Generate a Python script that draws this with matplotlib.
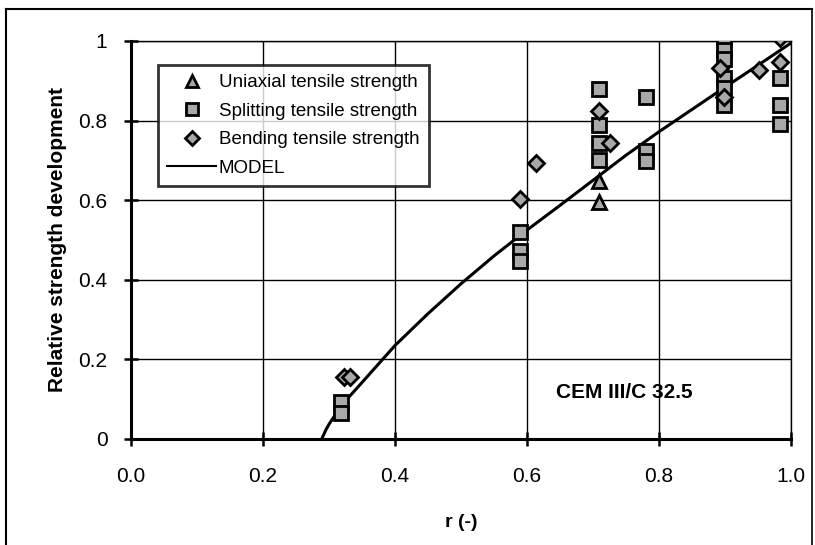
import matplotlib.pyplot as plt
from matplotlib.lines import Line2D

plt.rcParams['font.family'] = ['Liberation Sans', 'DejaVu Sans']

# measured points
uniax_r = [0.709, 0.709]
uniax_s = [0.647, 0.596]

split_r = [0.318, 0.318, 0.589, 0.589, 0.589,
           0.709, 0.709, 0.709, 0.709,
           0.781, 0.781, 0.781,
           0.899, 0.899, 0.899, 0.899, 0.899, 0.899,
           0.983, 0.983, 0.983]
split_s = [0.092, 0.065, 0.519, 0.473, 0.448,
           0.879, 0.789, 0.744, 0.701,
           0.860, 0.724, 0.698,
           1.010, 0.977, 0.956, 0.906, 0.881, 0.839,
           0.906, 0.839, 0.791]

bend_r = [0.322, 0.332, 0.589, 0.613, 0.709, 0.726, 0.892, 0.899, 0.952, 0.983, 0.983]
bend_s = [0.157, 0.157, 0.602, 0.693, 0.824, 0.744, 0.931, 0.860, 0.927, 1.008, 0.948]

# model curve
model_r = [0.289, 0.295, 0.30, 0.31, 0.32, 0.33, 0.35, 0.40, 0.45, 0.50,
           0.55, 0.60, 0.65, 0.70, 0.75, 0.80, 0.85, 0.90, 0.95, 1.00]
model_s = [0.0, 0.022, 0.037, 0.062, 0.085, 0.105, 0.142, 0.235, 0.315, 0.390,
           0.460, 0.525, 0.587, 0.650, 0.713, 0.772, 0.828, 0.884, 0.939, 0.995]

fig = plt.figure(figsize=(8.15, 5.45), dpi=100)
ax = fig.add_axes([131/815, 1-439/545, 660/815, 398/545])

ax.plot(model_r, model_s, color='black', lw=2.2, zorder=3)
ax.plot(split_r, split_s, 's', ms=10, mfc='#a8a8a8', mec='black', mew=2, zorder=4)
ax.plot(bend_r, bend_s, 'D', ms=8, mfc='#a8a8a8', mec='black', mew=2, zorder=4)
ax.plot(uniax_r, uniax_s, '^', ms=10, mfc='#a8a8a8', mec='black', mew=2, zorder=4)

ax.set_xlim(0, 1)
ax.set_ylim(0, 1)
ax.set_xticks([0, 0.2, 0.4, 0.6, 0.8, 1.0])
ax.set_xticklabels(['0.0', '0.2', '0.4', '0.6', '0.8', '1.0'])
ax.set_yticks([0, 0.2, 0.4, 0.6, 0.8, 1.0])
ax.set_yticklabels(['0', '0.2', '0.4', '0.6', '0.8', '1'])
ax.grid(True, color='black', lw=1)
ax.tick_params(direction='inout', length=10, width=1.8, labelsize=15)
ax.tick_params(axis='x', pad=15)
ax.tick_params(axis='y', pad=12)
for s in ['left', 'bottom']:
    ax.spines[s].set_linewidth(2.2)
for s in ['top', 'right']:
    ax.spines[s].set_linewidth(1)

ax.set_xlabel('r (-)', fontsize=14, fontweight='bold', labelpad=20)
ax.set_ylabel('Relative strength development', fontsize=15, fontweight='bold', labelpad=8)

ax.text(0.644, 0.116, 'CEM III/C 32.5', fontsize=15, fontweight='bold', va='center', ha='left')

handles = [
    Line2D([], [], ls='none', marker='^', ms=8, mfc='#a8a8a8', mec='black', mew=2),
    Line2D([], [], ls='none', marker='s', ms=8, mfc='#a8a8a8', mec='black', mew=2),
    Line2D([], [], ls='none', marker='D', ms=7, mfc='#a8a8a8', mec='black', mew=2),
    Line2D([], [], color='black', lw=1.5),
]
labels = ['Uniaxial tensile strength', 'Splitting tensile strength',
          'Bending tensile strength', 'MODEL']
leg = ax.legend(handles, labels, loc='upper left', bbox_to_anchor=(0.041, 0.94),
                frameon=True, fancybox=False, fontsize=13.5, borderpad=0.5,
                labelspacing=0.6, handlelength=2.6, handletextpad=0.15,
                borderaxespad=0)
leg.get_frame().set_edgecolor('black')
leg.get_frame().set_linewidth(2)

# outer frame
fig.add_artist(Line2D([6/815, 6/815], [0, 1-9/545], color='black', lw=1.5, transform=fig.transFigure))
fig.add_artist(Line2D([6/815, 812/815], [1-9/545, 1-9/545], color='black', lw=1.5, transform=fig.transFigure))
fig.add_artist(Line2D([812/815, 812/815], [0, 1-9/545], color='black', lw=1.2, transform=fig.transFigure))

fig.savefig('out.png', dpi=100)
